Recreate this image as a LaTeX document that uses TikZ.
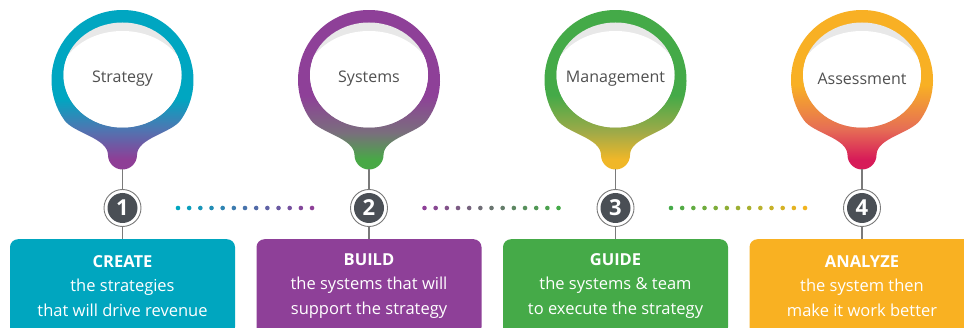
\documentclass[tikz,border=0pt]{standalone}
\usepackage{fontspec}
\setmainfont{Open Sans}

% palette
\definecolor{cteal}{RGB}{0,166,191}
\definecolor{cpurple}{RGB}{142,64,152}
\definecolor{cgreen}{RGB}{69,170,72}
\definecolor{corange}{RGB}{249,177,34}
\definecolor{cgold}{RGB}{242,180,30}
\definecolor{numdark}{RGB}{74,79,85}
\definecolor{stemgray}{RGB}{122,122,122}
\definecolor{labelgray}{RGB}{80,80,80}
\definecolor{ringshadow}{RGB}{232,232,232}

% pin gradients (bottom -> top)
\definecolor{aBot}{RGB}{142,62,150}\definecolor{aMid}{RGB}{78,118,178}\definecolor{aTop}{RGB}{0,166,193}
\definecolor{bBot}{RGB}{72,168,70}\definecolor{bMid}{RGB}{122,110,125}\definecolor{bTop}{RGB}{142,64,152}
\definecolor{cBot}{RGB}{240,183,40}\definecolor{cMid}{RGB}{160,170,72}\definecolor{cTop}{RGB}{68,170,72}
\definecolor{dBot}{RGB}{215,27,88}\definecolor{dMid}{RGB}{230,110,85}\definecolor{dTop}{RGB}{248,176,36}

\pgfdeclareverticalshading{pinA}{100bp}{color(0bp)=(aBot); color(28bp)=(aBot); color(37bp)=(aMid); color(46bp)=(aTop); color(100bp)=(aTop)}
\pgfdeclareverticalshading{pinB}{100bp}{color(0bp)=(bBot); color(28bp)=(bBot); color(36bp)=(bMid); color(47bp)=(bTop); color(100bp)=(bTop)}
\pgfdeclareverticalshading{pinC}{100bp}{color(0bp)=(cBot); color(28bp)=(cBot); color(36bp)=(cMid); color(47bp)=(cTop); color(100bp)=(cTop)}
\pgfdeclareverticalshading{pinD}{100bp}{color(0bp)=(dBot); color(28bp)=(dBot); color(37bp)=(dMid); color(50bp)=(dTop); color(100bp)=(dTop)}

\tikzset{
  pinlabel/.style={text=labelgray, font=\fontsize{16}{18}\selectfont, inner sep=0pt},
  stepcard/.style={rounded corners=8pt, minimum width=225pt, minimum height=96pt, inner sep=0pt, draw=none},
  cardtext/.style={text=white, align=center, font=\fontsize{16.5}{24.5}\selectfont, inner sep=0pt},
  stem/.style={draw=stemgray, line width=1.1pt},
  numdisc/.style={circle, minimum size=37pt, inner sep=0pt, fill=white, draw=stemgray, line width=0.9pt,
    text=white, font=\fontsize{22}{22}\bfseries\selectfont,
    path picture={\fill[numdark] (path picture bounding box.center) circle (15pt);}}
}

\begin{document}
\begin{tikzpicture}[x=1pt,y=1pt]
\useasboundingbox (0,0) rectangle (964,327);
\fill[white] (0,0) rectangle (964,327);

% four pins with their cards
\foreach \i/\cx/\shd/\lab/\boxc/\ttl/\la/\lb in {
  1/122.5/pinA/Strategy/cteal/CREATE/the strategies/that will drive revenue,
  2/369/pinB/Systems/cpurple/BUILD/the systems that will/support the strategy,
  3/615.5/pinC/Management/cgreen/GUIDE/the systems \& team/to execute the strategy,
  4/862/pinD/Assessment/corange/ANALYZE/the system then/make it work better}{
  \begin{scope}[shift={(\cx,247)}]
    % ring flowing through a tapering neck into the bulb
    \shade[shading=\shd]
      (58.16,-40.15) arc[start angle=-35, end angle=215, x radius=71, y radius=70]
      .. controls (-48.9,-53.2) and (-14.5,-58) .. (-14.5,-75)
      arc[start angle=180, end angle=360, radius=14.5]
      .. controls (14.5,-58) and (48.9,-53.2) .. (58.16,-40.15) -- cycle;
    % inner face with its soft top shadow
    \fill[ringshadow] (0,5) ellipse [x radius=59, y radius=52.5];
    \begin{scope}
      \clip (0,5) ellipse [x radius=59, y radius=52.5];
      \fill[white] (0,-2) ellipse [x radius=64, y radius=51];
    \end{scope}
    \node[pinlabel] (p\i) at (0,1) {\lab};
    \coordinate (tip\i) at (0,-89.5);
  \end{scope}
  \node[stepcard, fill=\boxc, anchor=north] (b\i) at (\cx,88) {};
  \node[cardtext] (t\i) at (\cx,41) {{\bfseries \ttl}\\ \la\\ \lb};
  \draw[stem] (tip\i) -- (b\i.north);
  \node[numdisc] (n\i) at (\cx,119) {\i};
}

% dotted links between the numbered steps
\foreach \sx/\ca/\cb in {178/cteal/cpurple, 424.5/cpurple/cgreen, 671/cgreen/cgold}{
  \foreach \k in {0,...,12}{
    \pgfmathtruncatemacro\pc{round(100*\k/12)}
    \fill[\cb!\pc!\ca] (\sx+\k*11.17,119) circle (2.3);
  }
}
\end{tikzpicture}
\end{document}
